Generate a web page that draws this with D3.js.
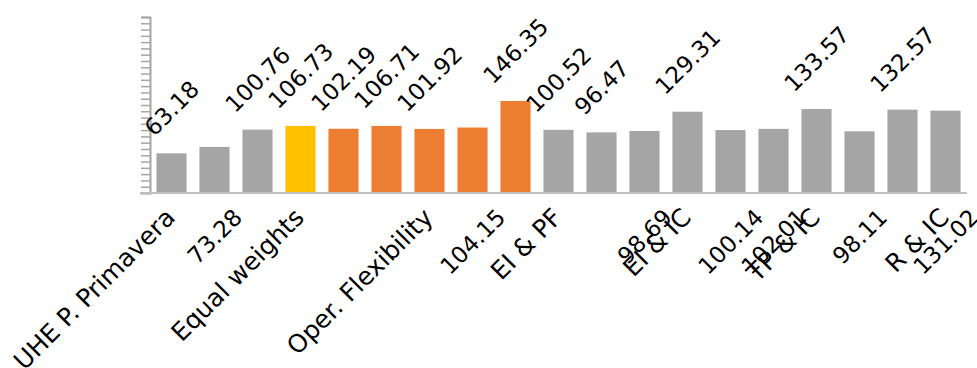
<!DOCTYPE html>
<html>
<head>
<meta charset="utf-8">
<script src="https://cdn.jsdelivr.net/npm/d3@7"></script>
<style>
    body { margin: 0; background: #fff; }
    text { font-family: "DejaVu Sans", sans-serif; fill: #000; }
</style>
</head>
<body>
<script>
// bar values
var values = [63.18, 73.28, 100.76, 106.73, 102.19, 106.71, 101.92, 104.15, 146.35, 100.52,
              96.47, 98.69, 129.31, 100.14, 102.01, 133.57, 98.11, 132.57, 131.02];
// only every third bar carries a category name
var categories = ["UHE P. Primavera", "", "", "Equal weights", "", "", "Oper. Flexibility", "", "", "EI & PF",
                  "", "", "EI & IC", "", "", "TP & IC", "", "", "R & IC"];
// group of each bar (decides the colour)
var groups = ["base", "base", "base", "equal", "oper", "oper", "oper", "oper", "oper", "base",
              "base", "base", "base", "base", "base", "base", "base", "base", "base"];
// where the value label sits
var labelSide = ["up", "down", "up", "up", "up", "up", "up", "down", "up", "up",
                 "up", "down", "up", "down", "down", "up", "down", "up", "down"];

var w = 977, h = 368;
var plotLeft = 150, plotRight = 967, plotTop = 17, axisY = 193;
var fs = 23, catFs = 25;

var svg = d3.select("body").append("svg")
    .attr("width", w)
    .attr("height", h);

var x = d3.scaleBand()
    .domain(d3.range(values.length))
    .range([plotLeft, plotRight])
    .paddingInner(0.3)
    .paddingOuter(0.15);

var y = d3.scaleLinear()
    .domain([0, 280])
    .range([axisY, plotTop]);

var color = d3.scaleOrdinal()
    .domain(["base", "equal", "oper"])
    .range(["#a5a5a5", "#ffc000", "#ed7d31"]);

// y axis: only the line and the small ticks, no numbers
var yAxis = svg.append("g")
    .attr("transform", "translate(" + plotLeft + ",0)")
    .call(d3.axisLeft(y).tickValues(d3.range(0, 281, 10)).tickSize(9).tickFormat(""));
yAxis.select(".domain").attr("stroke", "#a6a6a6").attr("stroke-width", 2);
yAxis.selectAll(".tick line").attr("stroke", "#a6a6a6").attr("stroke-width", 1.5);

svg.selectAll("rect.bar")
    .data(values)
    .enter()
    .append("rect")
    .attr("class", "bar")
    .attr("x", function(d, i) { return x(i); })
    .attr("y", function(d) { return y(d); })
    .attr("width", x.bandwidth())
    .attr("height", function(d) { return axisY - y(d); })
    .attr("fill", function(d, i) { return color(groups[i]); });

// x axis line
svg.append("line")
    .attr("x1", plotLeft - 10).attr("x2", plotRight)
    .attr("y1", axisY).attr("y2", axisY)
    .attr("stroke", "#bfbfbf")
    .attr("stroke-width", 2);

// category names, rotated
var xAxis = svg.append("g")
    .attr("transform", "translate(0," + axisY + ")")
    .call(d3.axisBottom(x).tickSize(0).tickFormat(function(i) { return categories[i]; }));
xAxis.select(".domain").remove();
xAxis.selectAll(".tick text")
    .attr("font-size", catFs + "px")
    .attr("font-family", "DejaVu Sans")
    .attr("fill", "#000")
    .attr("text-anchor", "end")
    .attr("x", 0).attr("y", 0).attr("dy", 0)
    .attr("transform", "translate(5,26) rotate(-45)");

// value labels, rotated box centred on the bar
var capH = 0.73 * fs;
svg.selectAll("text.val")
    .data(values)
    .enter()
    .append("text")
    .attr("class", "val")
    .attr("font-size", fs + "px")
    .text(function(d) { return d.toFixed(2); })
    .each(function(d, i) {
        var tl = this.getComputedTextLength();
        var cx = x(i) + x.bandwidth() / 2;
        var ox = cx - 0.354 * (tl - capH);
        var oy;
        if (labelSide[i] === "up") {
            oy = y(d) - 16;
        } else {
            oy = axisY + 14 + 0.707 * (tl + capH);
        }
        d3.select(this).attr("transform", "translate(" + ox + "," + oy + ") rotate(-45)");
    });
</script>
</body>
</html>
